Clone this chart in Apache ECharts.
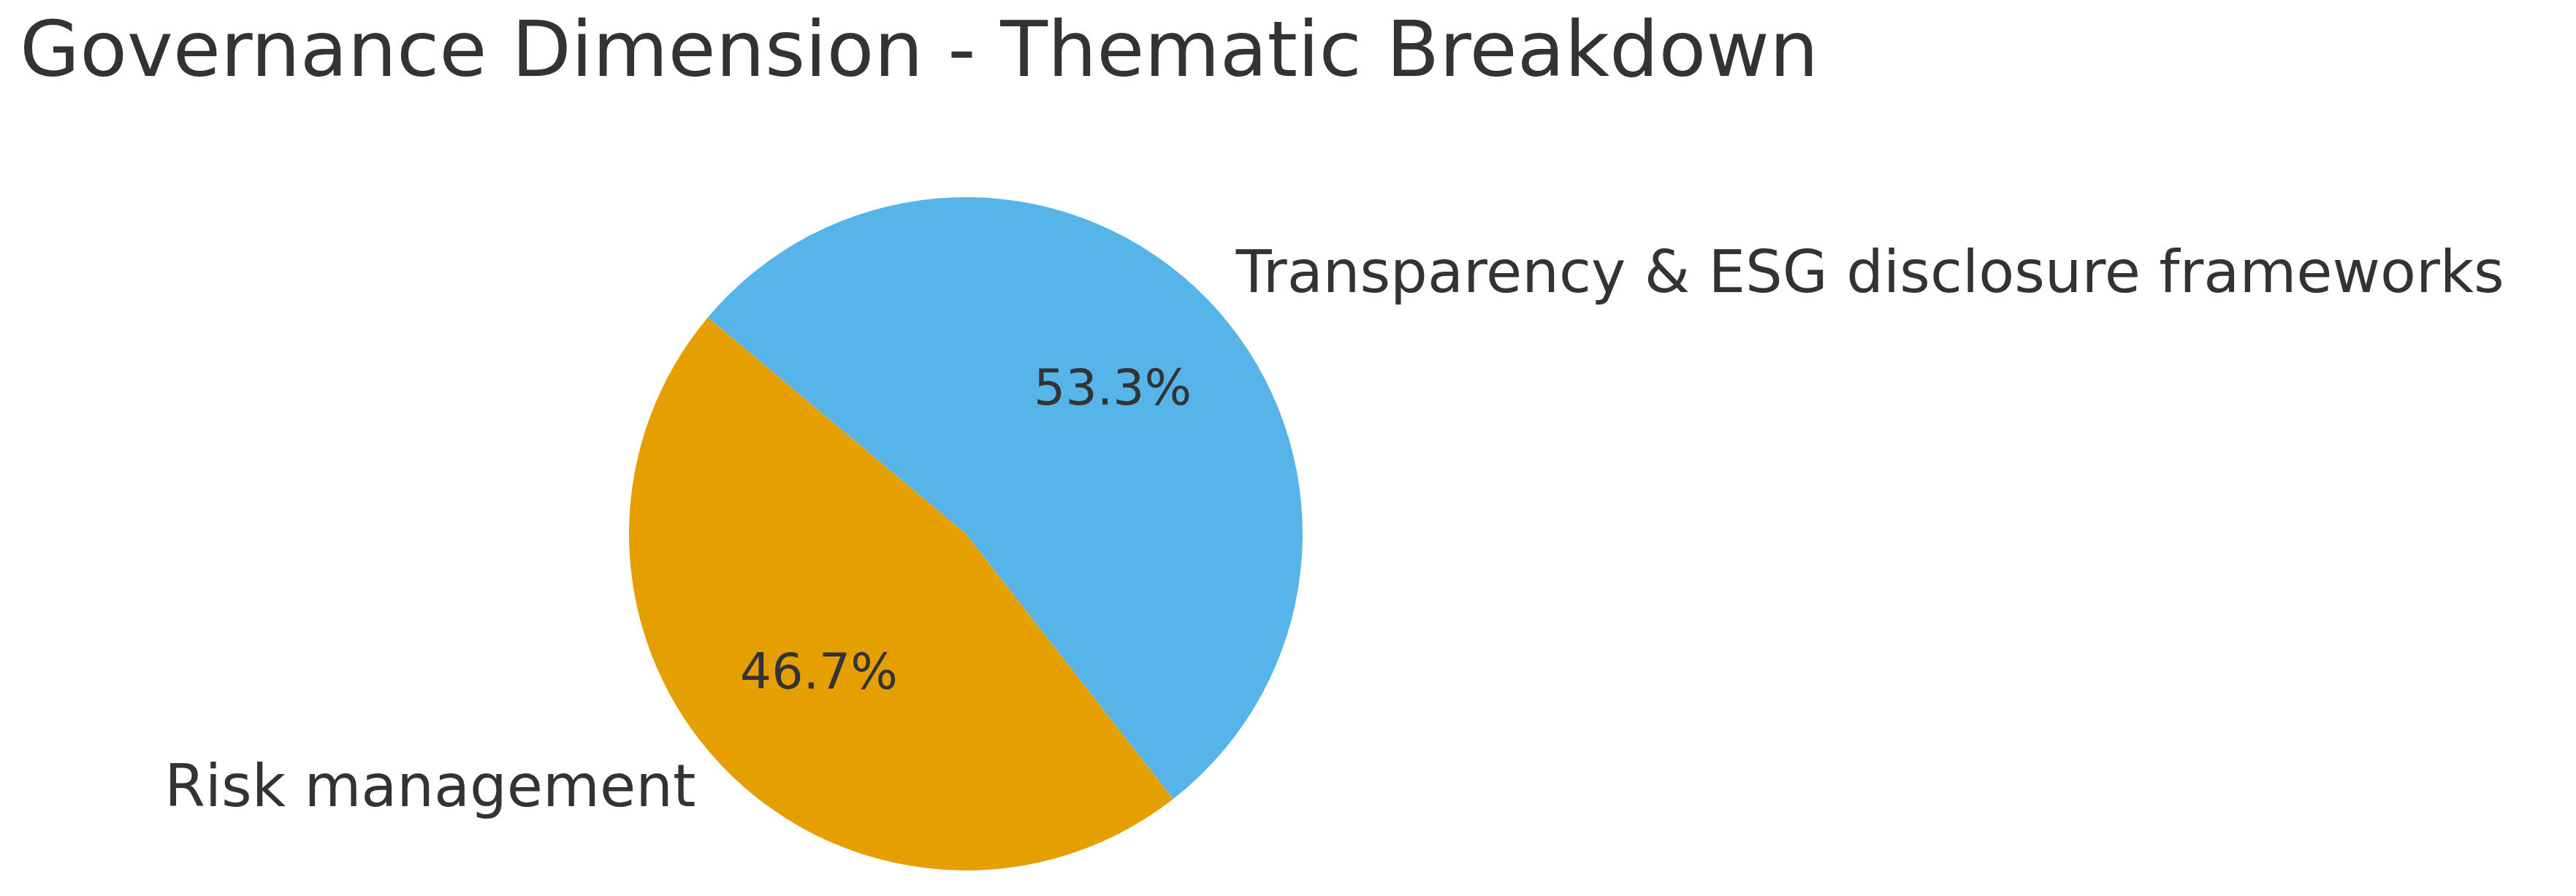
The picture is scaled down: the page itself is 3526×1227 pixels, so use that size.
<!DOCTYPE html>
<html>
<head>
<meta charset="utf-8">
<script src="https://cdn.jsdelivr.net/npm/echarts@6/dist/echarts.min.js"></script>
<style>html,body{margin:0;padding:0;background:#fff}#chart{width:3526px;height:1227px}</style>
</head>
<body>
<div id="chart"></div>
<script>
const categories = ["Transparency & ESG disclosure frameworks", "Risk management"];
const values = [8, 7];
const colors = ["#56B4E9", "#E69F00"];

const chart = echarts.init(document.getElementById("chart"));
const R = 461;
const center = [1322, 731];
const data = categories.map((name, i) => ({ name, value: values[i], itemStyle: { color: colors[i] } }));

chart.setOption({
  backgroundColor: "#fff",
  textStyle: { fontFamily: "DejaVu Sans" },
  title: {
    text: "Governance Dimension - Thematic Breakdown",
    left: 22, top: 18,
    textStyle: { fontSize: 106, fontWeight: "normal", color: "#333", fontFamily: "DejaVu Sans" }
  },
  series: [
    {
      type: "pie", center, radius: [0, R * 1.2], startAngle: 140, clockwise: true,
      silent: true, animation: false, z: 3,
      data: data.map(d => ({ ...d, itemStyle: { color: "rgba(0,0,0,0)" } })),
      label: {
        position: "inside", fontSize: 68, color: "#333", fontFamily: "DejaVu Sans",
        formatter: p => p.percent.toFixed(1) + "%"
      },
      labelLine: { show: false }
    },
    {
      type: "pie", center, radius: [0, R], startAngle: 140, clockwise: true,
      silent: true, animation: false, z: 2,
      data,
      label: {
        position: "outside", fontSize: 80, color: "#333", fontFamily: "DejaVu Sans",
        formatter: "{b}"
      },
      labelLine: { show: false, length: 46, length2: 0 }
    }
  ]
});
</script>
</body>
</html>
